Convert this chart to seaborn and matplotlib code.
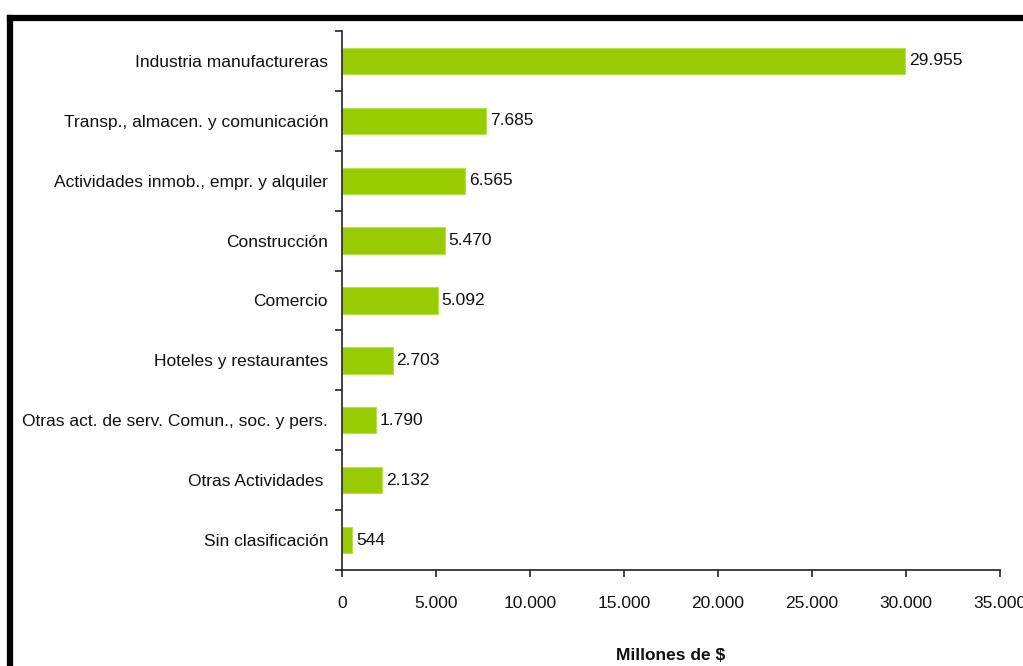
import matplotlib
matplotlib.use("Agg")
import matplotlib.pyplot as plt
import seaborn as sns
import pandas as pd
from matplotlib.lines import Line2D
from matplotlib.ticker import FuncFormatter, MultipleLocator

categories = [
    "Industria manufactureras",
    "Transp., almacen. y comunicación",
    "Actividades inmob., empr. y alquiler",
    "Construcción",
    "Comercio",
    "Hoteles y restaurantes",
    "Otras act. de serv. Comun., soc. y pers.",
    "Otras Actividades ",
    "Sin clasificación",
]
values = [29955, 7685, 6565, 5470, 5092, 2703, 1790, 2132, 544]
value_labels = ["29.955", "7.685", "6.565", "5.470", "5.092", "2.703", "1.790", "2.132", "544"]
x_label = "Millones de $"

df = pd.DataFrame({"cat": categories, "val": values})

sns.set_style("white")
plt.rcParams["font.family"] = ["Liberation Sans Narrow", "Liberation Sans", "DejaVu Sans"]

fig = plt.figure(figsize=(10.23, 6.66), dpi=100)
ax = fig.add_axes([342 / 1023, 1 - 570 / 666, (1000 - 342) / 1023, (570 - 31) / 666])

sns.barplot(data=df, x="val", y="cat", ax=ax, color="#99CC00", width=0.44,
            saturation=1, edgecolor="#B8E04A", linewidth=0.8, orient="h")

ax.set_xlim(0, 35000)
ax.set_ylim(len(categories) - 0.5, -0.5)
ax.xaxis.set_major_locator(MultipleLocator(5000))
ax.xaxis.set_major_formatter(FuncFormatter(lambda v, p: f"{int(v):,}".replace(",", ".")))

for i, (v, lab) in enumerate(zip(values, value_labels)):
    ax.text(v + 200, i, lab, va="center", ha="left", fontsize=12.5, color="#111111")

for s in ["top", "right"]:
    ax.spines[s].set_visible(False)
for s in ["left", "bottom"]:
    ax.spines[s].set_color("#222222")
    ax.spines[s].set_linewidth(1.2)

ax.set_yticks([i for i in range(len(categories))])
ax.set_yticklabels(categories, fontsize=12.5, color="#111111")
ax.tick_params(axis="y", which="major", left=True, length=0, pad=10)
# boundary ticks on y axis
ax.set_yticks([i - 0.5 for i in range(len(categories) + 1)], minor=True)
ax.tick_params(axis="y", which="minor", left=True, length=5, width=1.2, color="#222222",
               direction="out")
ax.tick_params(axis="x", which="major", bottom=True, length=5, width=1.2, color="#222222",
               direction="out", labelsize=12.5, labelcolor="#111111", pad=14)
ax.set_ylabel("")
ax.set_xlabel(x_label, fontsize=12.5, fontweight="bold", labelpad=26, color="#111111")

# frame border (top and left)
fig.add_artist(Line2D([0.0098, 1.0], [1 - 17.5 / 666, 1 - 17.5 / 666], color="black",
                      linewidth=4.5, solid_capstyle="projecting", transform=fig.transFigure))
fig.add_artist(Line2D([0.0098, 0.0098], [0, 1 - 17.5 / 666], color="black",
                      linewidth=4.5, solid_capstyle="projecting", transform=fig.transFigure))

fig.savefig("out.png", dpi=100)
